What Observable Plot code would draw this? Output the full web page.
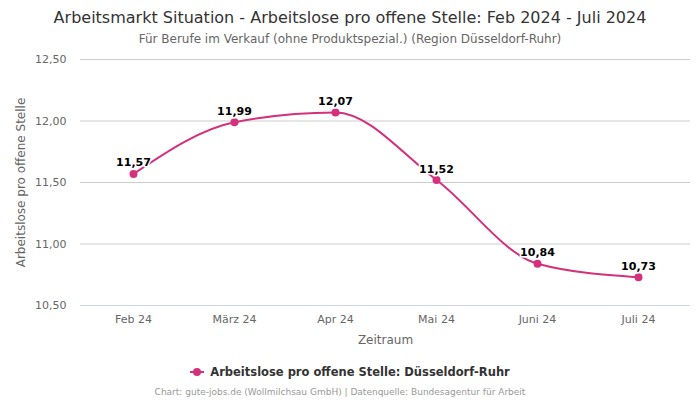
<!DOCTYPE html>
<html>
<head>
<meta charset="utf-8">
<script src="https://cdn.jsdelivr.net/npm/d3@7"></script>
<script src="https://cdn.jsdelivr.net/npm/@observablehq/plot@0.6"></script>
<style>
  html, body { margin: 0; padding: 0; background: #fff; }
  #wrap { position: relative; width: 700px; height: 400px; font-family: "DejaVu Sans", sans-serif; overflow: hidden; }
  .abs { position: absolute; left: 0; width: 700px; text-align: center; white-space: nowrap; }
  #title { top: 8px; font-size: 16px; color: #333; }
  #subtitle { top: 32px; font-size: 12px; color: #666; }
  #legend { top: 365px; font-size: 11.5px; font-weight: bold; color: #333; }
  #caption { top: 387px; left: -10px; font-size: 9px; color: #999; }
  #chart { position: absolute; left: 0; top: 0; }
</style>
</head>
<body>
<div id="wrap">
  <div id="chart"></div>
  <div class="abs" id="title">Arbeitsmarkt Situation - Arbeitslose pro offene Stelle: Feb 2024 - Juli 2024</div>
  <div class="abs" id="subtitle">Für Berufe im Verkauf (ohne Produktspezial.) (Region Düsseldorf-Ruhr)</div>
  <div class="abs" id="legend"><svg width="14" height="10" style="vertical-align:middle;margin-right:6px;margin-top:-2px"><line x1="0" y1="5" x2="14" y2="5" stroke="#d4307c" stroke-width="2"/><circle cx="7" cy="5" r="4" fill="#d4307c"/></svg>Arbeitslose pro offene Stelle: Düsseldorf-Ruhr</div>
  <div class="abs" id="caption">Chart: gute-jobs.de (Wollmilchsau GmbH) | Datenquelle: Bundesagentur für Arbeit</div>
</div>
<script>
const months = ["Feb 24", "März 24", "Apr 24", "Mai 24", "Juni 24", "Juli 24"];
const values = [11.57, 11.99, 12.07, 11.52, 10.84, 10.73];
const yTicks = [10.5, 11, 11.5, 12, 12.5];
const seriesName = "Arbeitslose pro offene Stelle: Düsseldorf-Ruhr";

const data = months.map((m, i) => ({ month: m, value: values[i] }));
const de = v => d3.format(".2f")(v).replace(".", ",");
const color = "#d4307c";

const chart = Plot.plot({
  width: 700,
  height: 400,
  marginTop: 59,
  marginBottom: 95,
  marginLeft: 80,
  marginRight: 10,
  style: { fontFamily: "DejaVu Sans, sans-serif", fontSize: "11px", color: "#666", background: "transparent" },
  x: { type: "point", domain: months, padding: 0.5, label: null },
  y: { domain: [10.5, 12.5], label: null },
  marks: [
    Plot.gridY(yTicks, { stroke: "#cccccc", strokeOpacity: 1 }),
    Plot.ruleY([10.5], { stroke: "#ccd6eb" }),
    Plot.axisY(yTicks, { tickSize: 0, tickPadding: 14, tickFormat: de, fontSize: 11, fill: "#666", label: null }),
    Plot.axisX({ tickSize: 0, tickPadding: 10, fontSize: 11, fill: "#666", label: null }),
    Plot.text(["Zeitraum"], { frameAnchor: "bottom", lineAnchor: "middle", dy: 35, fontSize: 12, fill: "#666" }),
    Plot.text(["Arbeitslose pro offene Stelle"], { frameAnchor: "left", textAnchor: "middle", lineAnchor: "middle", rotate: -90, dx: -59, fontSize: 12, fill: "#666" }),
    Plot.line(data, { x: "month", y: "value", stroke: color, strokeWidth: 2, curve: "monotone-x" }),
    Plot.dot(data, { x: "month", y: "value", fill: color, r: 4 }),
    Plot.text(data, { x: "month", y: "value", text: d => de(d.value), dy: -11, fontSize: 11, fontWeight: "bold", fill: "#000", stroke: "#fff", strokeWidth: 3, paintOrder: "stroke" })
  ]
});
document.getElementById("chart").appendChild(chart);
</script>
</body>
</html>
